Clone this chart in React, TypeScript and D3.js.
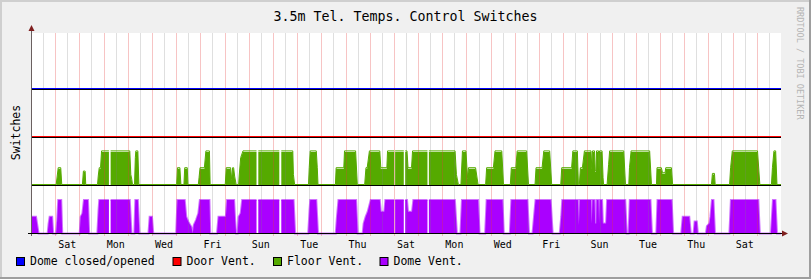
import React from 'react';
import * as d3 from 'd3';

type Pt = [number, number | null];

const TITLE = '3.5m Tel. Temps. Control Switches';
const Y_LABEL = 'Switches';
const WATERMARK = 'RRDTOOL / TOBI OETIKER';
const TOTAL_HOURS = 744;
const DAY_LABELS = ['Sat', 'Mon', 'Wed', 'Fri', 'Sun', 'Tue', 'Thu', 'Sat', 'Mon', 'Wed', 'Fri', 'Sun', 'Tue', 'Thu', 'Sat'];
const SERIES_NAMES = ['Dome closed/opened', 'Door Vent.', 'Floor Vent.', 'Dome Vent.'];
const SERIES_COLORS = ['#0000FF', '#FF0000', '#55AA00', '#AA00FF'];
const SERIES_BASE = [3, 2, 1, 0];
const SERIES_FILLED = [false, false, true, true];
const SWING = 0.7;

// [hour since start, switch level 0..1]; null = unknown sample
const DOME_CLOSED: Pt[] = [[0, 0], [744, 0]];
const DOOR_VENT: Pt[] = [[0, 0], [744, 0]];
const FLOOR_VENT: Pt[] = [
  [0, 0], [25, 0], [27, 0.5], [29.5, 0.5], [30.5, 0],
  [51, 0], [52, 0.4], [53.7, 0.4], [54.3, 0],
  [66, 0], [66.7, 0.25], [67.7, 0.5], [69, 0.5], [70, 1], [77.3, 1], [78, null], [79, 1], [98, 1], [99, 0.3], [100, 0.15], [100.7, 0],
  [102.7, 0], [103.5, 0.8], [104, 1], [106, 1], [107, 0],
  [144.5, 0], [145.3, 0.5], [147.7, 0.5], [148.7, 0],
  [151.7, 0], [152.5, 0.5], [155, 0.5], [155.7, 0],
  [166, 0], [166.7, 0.2], [167.7, 0.5], [172, 0.5], [173.5, 1], [177, 1], [177.7, 0],
  [192.7, 0], [193.7, 0.5], [198, 0.5], [199, 0.15], [200, 0.5], [201, 0.5], [202, 0.25], [203.5, 0],
  [206, 0], [206.5, 0.25], [208, 0.8], [210.3, 1], [223.7, 1], [224.5, null], [225.5, 1], [246.3, 1], [247.3, null], [248.3, 1], [259.7, 1], [260.3, 0.3], [261.5, 0],
  [275.3, 0], [276, 0.5], [277, 1], [283, 1], [284, 0.5], [284.7, 0],
  [302, 0], [302.7, 0.5], [310.3, 0.5], [311, 1], [322, 1], [323.7, 0],
  [331, 0], [332.3, 0.5], [333.5, 0.5], [335.7, 1], [346, 1], [347, 0.5], [353, 0.5], [353.7, 1], [360.3, 1], [360.7, null], [361.2, 1], [369.8, 1], [370.5, null], [371.2, 1], [373, 1], [374, 0.5], [377.5, 0.5], [378.5, 1], [393.3, 1], [394, null], [394.7, 1], [420.7, 1], [422, 0.3], [424, 0],
  [426.5, 0], [428, 1], [431.5, 1], [433, 0.2], [434, 0.5], [441, 0.5], [443.5, 0],
  [451, 0], [452, 0.5], [458.7, 0.5], [460.3, 1], [467, 1], [468.7, 0],
  [475.5, 0], [476.5, 0.5], [481, 0.5], [482.3, 1], [491.7, 1], [493.5, 0],
  [500, 0], [501, 0.5], [507, 0.5], [508.7, 1], [514.5, 1], [516.5, 0],
  [525.5, 0], [526.5, 0.5], [536.3, 0.5], [537.5, 1], [542, 1], [543, 0],
  [544, 0], [545, 0.5], [547, 0.5], [549, 1], [555.5, 1], [556.3, 0.5], [557, 1], [559, 1], [559.7, 0.4], [560.5, 0.4], [561, 1], [563, 1], [563.5, 0.4], [564, 1], [566.5, 1], [567.5, 0.2], [568, 0],
  [571.5, 0], [573, 0.6], [574, 1], [588, 1], [589.7, 0],
  [593, 0], [593.7, 0.5], [595.3, 1], [613.7, 1], [615.5, 0],
  [620.5, 0], [621, 0.5], [625.3, 0.5], [626.5, 0.35], [629, 0.35], [629.7, 0.5], [635.3, 0.5], [636.5, 0],
  [675, 0], [676, 0.33], [678, 0.33], [678.7, 0],
  [693, 0], [694, 0.5], [695.7, 1], [720.7, 1], [723, 0],
  [734.5, 0], [735.5, 0.5], [737, 1], [738.7, 1], [740, 0],
  [744, 0],
];
const DOME_VENT: Pt[] = [
  [0, 0.5], [5, 0.5], [6, 0.3], [7.5, 0],
  [16.5, 0], [17.5, 0.3], [18.5, 0.5], [21, 0.5], [22, 0],
  [25, 0], [26, 0.4], [27, 1], [30, 1], [31, 0],
  [48.3, 0], [49.3, 0.5], [51, 0.6], [52.5, 1], [56.5, 1], [57.7, 0],
  [65.8, 0], [67, 0.7], [67.7, 1], [77.3, 1], [78, null], [79, 1], [98, 1], [99.7, 0],
  [102.5, 0], [103.5, 1], [106, 1], [107.5, 0],
  [116.5, 0], [117.7, 0.5], [120, 0.5], [121.3, 0],
  [144, 0], [145.3, 1], [152.5, 1], [154, 0.5], [156, 0.35], [159, 0.2], [160.5, 0],
  [161.5, 0.25], [163.7, 0.4], [166, 0.6], [167.5, 1], [177, 1], [177.8, 0],
  [184.5, 0], [186, 0.5], [193.3, 0.5], [194.5, 1], [201.5, 1], [202.5, 0.4], [203.5, 0],
  [205, 0], [206, 0.5], [208, 0.6], [209.5, 1], [223.7, 1], [224.5, null], [225.5, 1], [246.3, 1], [247.3, null], [248.3, 1], [260.5, 1], [262, 0],
  [275, 0], [276.3, 0.7], [277, 1], [283, 1], [284.7, 0],
  [302.3, 0], [303.5, 0.5], [305, 1], [322.5, 1], [324, 0],
  [329, 0], [330, 0.3], [332, 0.5], [334, 0.65], [337, 1], [346, 1], [347, 0.65], [350.5, 0.65], [351.5, 1], [360.3, 1], [360.7, null], [361.2, 1], [369.8, 1], [370.5, null], [371.2, 1], [373, 1], [374, 0.65], [378, 0.65], [379.3, 1], [393.3, 1], [394, null], [394.7, 1], [420.5, 1], [422.5, 0],
  [426, 0], [427.5, 1], [443.5, 1], [445, 0],
  [450.5, 0], [452, 1], [467.7, 1], [469, 0],
  [475, 0], [476.5, 1], [492.5, 1], [494, 0],
  [497.5, 0], [499, 0.5], [500.5, 1], [515.5, 1], [517.5, 0],
  [524.5, 0], [526, 0.5], [527, 1], [542.5, 1], [543.5, 0.25], [544.5, 1], [555.5, 1], [556.3, 0.3], [557, 1], [559, 1], [559.7, 0.3], [560.7, 0.3], [561.2, 1], [563, 1], [563.5, 0.3], [564.2, 1], [566.5, 1], [567.3, 0.3], [570.5, 0.3], [571.5, 1], [589.5, 1], [591, 0],
  [592.8, 0], [594, 1], [614.5, 1], [616, 0],
  [620.3, 0], [621.5, 1], [635.5, 1], [637, 0],
  [645, 0], [646.5, 0.5], [653, 0.5], [654.5, 0],
  [657.3, 0], [658.3, 0.36], [660.5, 0.36], [661.5, 0],
  [669.5, 0], [670.5, 0.22], [673, 0.3], [674, 0.5], [675.5, 1], [677, 1], [678.5, 0],
  [692.8, 0], [694.3, 1], [721.5, 1], [723, 0],
  [734, 0], [735, 0.5], [736, 1], [738.5, 1], [740, 0],
  [744, 0],
];
const SERIES_DATA = [DOME_CLOSED, DOOR_VENT, FLOOR_VENT, DOME_VENT];

const FONT = '"DejaVu Sans Mono", monospace';

export default function App() {
  const W = 811, H = 279;
  const left = 31, right = 781, top = 33, bottom = 233;
  const x = d3.scaleLinear().domain([0, TOTAL_HOURS]).range([left, right]);
  const y = d3.scaleLinear().domain([0, 4.1875]).range([233.5, 32.5]);

  const minorHours = d3.range(12, TOTAL_HOURS, 24);
  const majorHours = d3.range(24, TOTAL_HOURS, 24);
  const px = (h: number) => Math.round(x(h)) + 0.5;

  const defined = (d: Pt) => d[1] !== null;

  return (
    <svg width={W} height={H} style={{ position: 'fixed', left: 0, top: 0, display: 'block' }}>
      <rect x={0} y={0} width={W} height={H} fill="#F0F0F0" />
      <rect x={0} y={0} width={W} height={2} fill="#CFCFCF" />
      <rect x={0} y={0} width={2} height={H} fill="#CFCFCF" />
      <rect x={0} y={H - 2} width={W} height={2} fill="#9E9E9E" />
      <rect x={W - 2} y={0} width={2} height={H} fill="#9E9E9E" />

      <rect x={left} y={top} width={right - left} height={bottom - top} fill="#FFFFFF" />

      {SERIES_DATA.map((data, i) => {
        if (!SERIES_FILLED[i]) return null;
        const base = SERIES_BASE[i];
        const area = d3.area<Pt>()
          .defined(defined)
          .x(d => x(d[0]))
          .y0(y(base))
          .y1(d => y(base + SWING * (d[1] as number)));
        return <path key={'a' + i} d={area(data) || ''} fill={SERIES_COLORS[i]} stroke="none" />;
      })}

      {minorHours.map(h => (
        <line key={'mi' + h} x1={px(h)} x2={px(h)} y1={top} y2={bottom} stroke="rgba(128,128,128,0.25)" strokeWidth={1} />
      ))}
      {majorHours.map(h => (
        <line key={'ma' + h} x1={px(h)} x2={px(h)} y1={top} y2={236} stroke="rgba(230,60,60,0.3)" strokeWidth={1} />
      ))}

      {SERIES_DATA.map((data, i) => {
        const base = SERIES_BASE[i];
        const isPurple = i === 3;
        const line = d3.line<Pt>()
          .defined(defined)
          .x(d => x(d[0]))
          .y(d => y(base + SWING * (d[1] as number)) - (isPurple ? 0 : 1));
        return (
          <path key={'l' + i} d={line(data) || ''} fill="none" stroke={SERIES_COLORS[i]}
            strokeWidth={isPurple ? 2 : 1} strokeOpacity={isPurple ? 0.55 : 1} />
        );
      })}

      {SERIES_BASE.map(b => (
        <line key={'b' + b} x1={left} x2={right} y1={y(b)} y2={y(b)} stroke="#000000" strokeWidth={1} />
      ))}

      {/* axes */}
      <line x1={left + 0.5} x2={left + 0.5} y1={29} y2={236} stroke="#6A6060" strokeWidth={1} />
      <line x1={28} x2={784} y1={233.5} y2={233.5} stroke="#000000" strokeWidth={1} />
      <path d={`M${left + 0.5},25 L${left + 3.5},31 L${left - 2.5},31 Z`} fill="#7F1F1F" />
      <path d={`M788,233.5 L782,230.5 L782,236.5 Z`} fill="#7F1F1F" />

      {/* texts */}
      <text x={405.5} y={21} textAnchor="middle" fontFamily={FONT} fontSize={13.3} fill="#000">{TITLE}</text>
      <text transform="translate(20,132.5) rotate(-90)" textAnchor="middle" fontFamily={FONT} fontSize={11.5} fill="#000">{Y_LABEL}</text>
      <text transform="translate(797,7) rotate(90)" textAnchor="start" fontFamily={FONT} fontSize={8.5} fill="#B4B4B4">{WATERMARK}</text>

      {DAY_LABELS.map((lab, k) => (
        <text key={'d' + k} x={x(36 + 48 * k)} y={248} textAnchor="middle" fontFamily={FONT} fontSize={10} fill="#000">{lab}</text>
      ))}

      {SERIES_NAMES.map((name, i) => {
        const bx = [16, 172.5, 273, 379.5][i];
        return (
          <g key={'lg' + i}>
            <rect x={bx + 0.5} y={257.5} width={8} height={8} fill={SERIES_COLORS[i]} stroke="#000" strokeWidth={1} />
            <text x={bx + 14} y={265} fontFamily={FONT} fontSize={11.5} fill="#000">{name}</text>
          </g>
        );
      })}
    </svg>
  );
}
